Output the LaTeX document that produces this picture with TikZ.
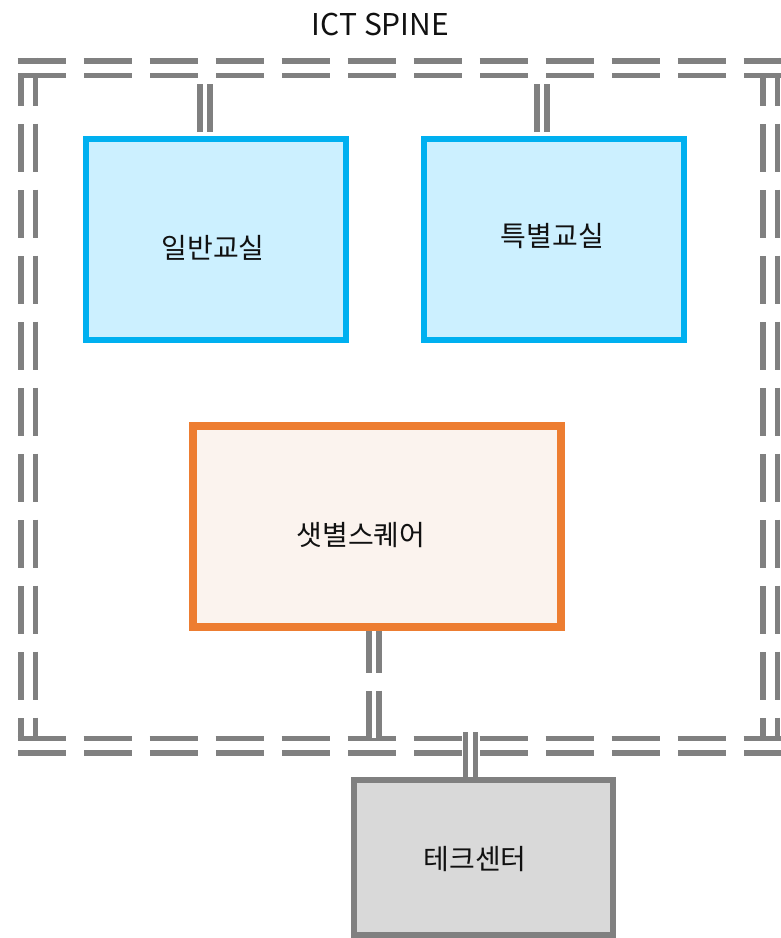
\documentclass[tikz,border=0pt]{standalone}
\usepackage{fontspec}
\setmainfont{Noto Sans CJK KR}
\usetikzlibrary{positioning,calc}
\definecolor{ictInk}{HTML}{111111}
\definecolor{ictBlue}{HTML}{00B0F0}
\definecolor{ictBlueFill}{HTML}{CCF0FF}
\definecolor{ictOrange}{HTML}{ED7D31}
\definecolor{ictOrangeFill}{HTML}{FBF3EE}
\definecolor{ictGray}{HTML}{808080}
\definecolor{ictGrayFill}{HTML}{D9D9D9}
% move a label inside its box without changing the box
\newcommand{\nudge}[3]{\raisebox{#2}[\height][\depth]{\hspace*{#1}#3\hspace*{-#1}}}
\tikzset{
    room/.style={draw=ictBlue, line width=6pt, fill=ictBlueFill, minimum width=260pt, minimum height=201pt, inner sep=0pt, text=ictInk},
    hub/.style={draw=ictOrange, line width=8pt, fill=ictOrangeFill, minimum width=368pt, minimum height=201pt, inner sep=0pt, text=ictInk},
    techbox/.style={draw=ictGray, line width=6pt, fill=ictGrayFill, minimum width=259pt, minimum height=155pt, inner sep=0pt, text=ictInk},
    spine/.style={draw=ictGray, line width=5.5pt, double=white, double distance=9pt, dash pattern=on 48pt off 18pt, shorten <=-10.5pt, shorten >=-10.5pt},
    link/.style={draw=ictGray, line width=5.5pt, double=white, double distance=4.5pt},
    dashlink/.style={link, dash pattern=on 48pt off 18pt}
}
\begin{document}
\begin{tikzpicture}[x=1pt, y=-1pt, font=\fontsize{28}{33}\selectfont]
\useasboundingbox (0,0) rectangle (780,938);
\node[text=ictInk, font=\fontsize{30}{36}\selectfont] (title) at (380.5,25) {ICT SPINE};
\coordinate (spNW) at (28,68); \coordinate (spNE) at (770,68);
\coordinate (spSW) at (28,745.5); \coordinate (spSE) at (770,745.5);
\node[room] (general) at (216,239.5) {\nudge{-3pt}{-8.5pt}{일반교실}};
\node[room, right=71.5pt of general] (special) {\nudge{-1pt}{3.5pt}{특별교실}};
\node[hub] (square) at (377,526.5) {\nudge{-16pt}{-8.5pt}{샛별스퀘어}};
\node[techbox] (tech) at (483.5,857.5) {\nudge{-8.5pt}{-1.5pt}{테크센터}};
% spine
\draw[spine] (spNW) -- (spSW); \draw[spine] (spNE) -- (spSE);
\draw[spine] (spNW) -- (spNE); \draw[spine] (spSW) -- (spSE);
% taps onto the spine
\coordinate (genTap) at ($(general.north)+(-11,0)$);
\coordinate (specTap) at ($(special.north)+(-11.5,0)$);
\coordinate (sqTap) at ($(square.south)+(-3,0)$);
\coordinate (techTap) at ($(tech.north)+(-13,0)$);
\draw[link, shorten <=4pt, shorten >=16pt] (genTap) -- (genTap |- spNW);
\draw[link, shorten <=4pt, shorten >=16pt] (specTap) -- (specTap |- spNW);
\draw[dashlink, dash phase=6.5pt, shorten >=7.5pt] (sqTap) -- (sqTap |- spSW);
\draw[link, shorten >=-13.5pt] (techTap) -- (techTap |- spSE);
\end{tikzpicture}
\end{document}
